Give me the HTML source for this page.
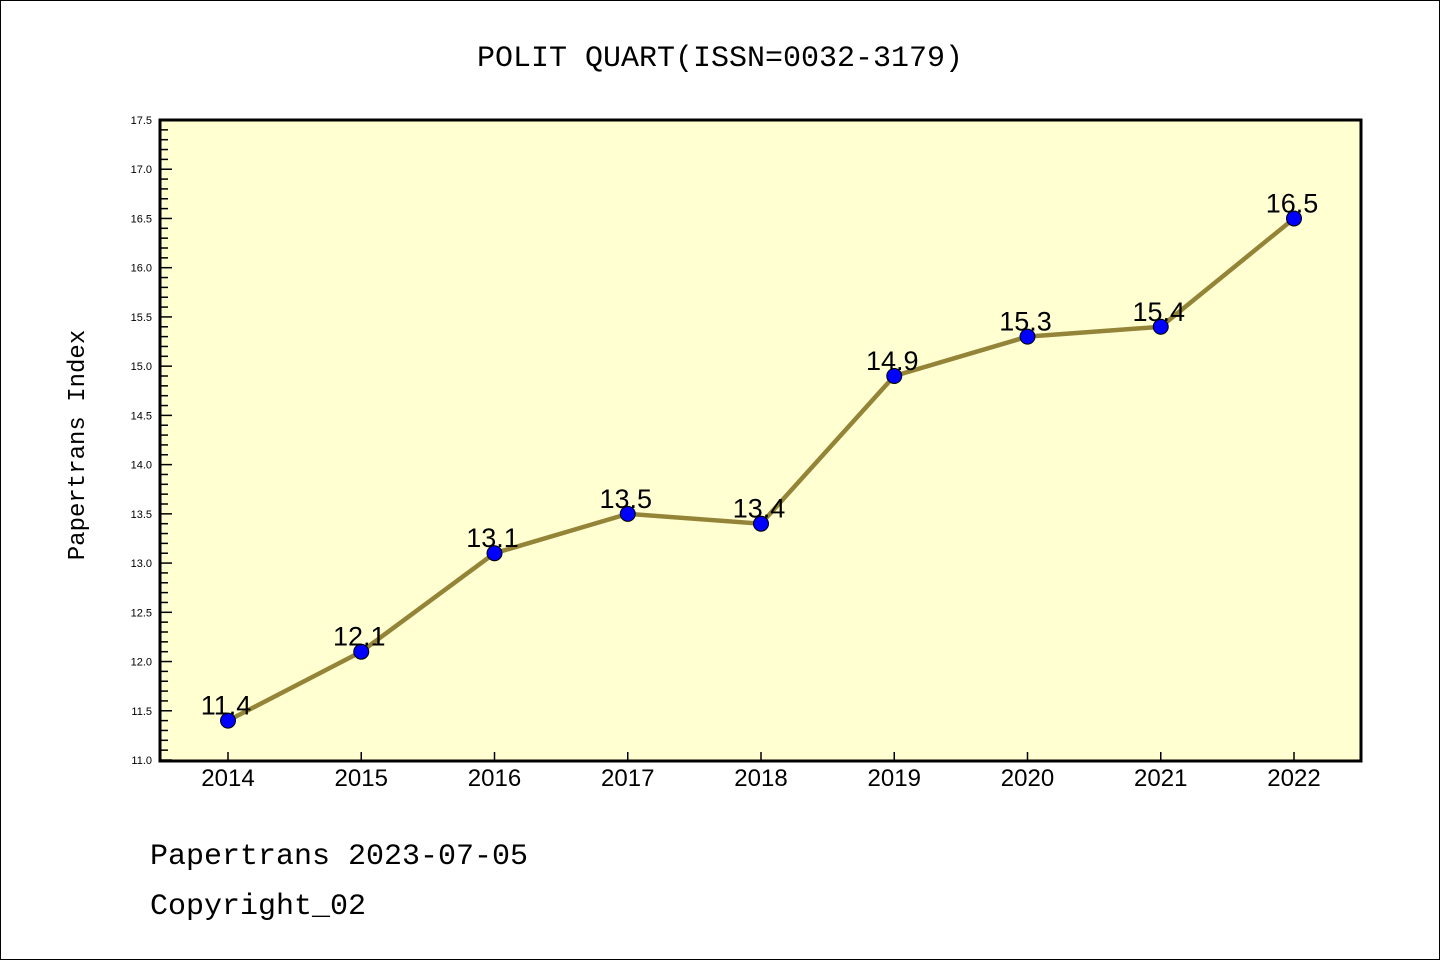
<!DOCTYPE html>
<html><head><meta charset="utf-8"><style>
html,body{margin:0;padding:0;background:#fff}
svg{display:block;font-family:"Liberation Sans","DejaVu Sans",sans-serif}
</style></head><body>
<svg width="1440" height="960">
<rect x="0.5" y="0.5" width="1439" height="959" fill="#fff" stroke="#000"/>
<text x="720" y="66" font-size="30" text-anchor="middle" font-family="Liberation Mono, monospace">POLIT QUART(ISSN=0032-3179)</text>
<rect x="160" y="120" width="1201" height="641" fill="#ffffd2"/>
<g id="yticks"></g><g id="xticks"></g>
<polyline id="line" fill="none" stroke="#948437" stroke-width="4.5"/>
<g id="pts"></g>
<rect x="160" y="120" width="1201" height="641" fill="none" stroke="#000" stroke-width="3"/>
<text transform="translate(84,445) rotate(-90)" font-size="24" text-anchor="middle" font-family="Liberation Mono, monospace">Papertrans Index</text>
<text x="150" y="864" font-size="30" font-family="Liberation Mono, monospace">Papertrans 2023-07-05</text>
<text x="150" y="914" font-size="30" font-family="Liberation Mono, monospace">Copyright_02</text>
</svg>
<script>
const years=["2014","2015","2016","2017","2018","2019","2020","2021","2022"];
const values=[11.4,12.1,13.1,13.5,13.4,14.9,15.3,15.4,16.5];
const yMin=11.0,yMax=17.5;
const NS="http://www.w3.org/2000/svg";
const X=i=>228+i*(1294-228)/(years.length-1);
const Y=v=>760-(v-yMin)/(yMax-yMin)*640;
function mk(t,a,p){const e=document.createElementNS(NS,t);for(const k in a)e.setAttribute(k,a[k]);p.appendChild(e);return e;}
const yt=document.getElementById('yticks');
for(let k=0;k<=65;k++){const v=yMin+k*0.1,y=Y(v),maj=k%5===0;
 const l=mk('line',{x1:160,x2:160+(maj?12:8),y1:y,y2:y,stroke:'#000','stroke-width':1.5},yt);
 
 
 if(maj){const t=mk('text',{x:152,y:y+4,'font-size':11,'text-anchor':'end'},yt);t.textContent=v.toFixed(1);
 
 }}
const xt=document.getElementById('xticks');
years.forEach((yr,i)=>{const x=X(i);
 const l=mk('line',{x1:x,x2:x,y1:760,y2:752,stroke:'#000','stroke-width':1.5},xt);
 
 
 const t=mk('text',{x:x,y:786,'font-size':24,'text-anchor':'middle'},xt);t.textContent=yr;
 
 });
document.getElementById('line').setAttribute('points',values.map((v,i)=>X(i)+','+Y(v)).join(' '));
const pts=document.getElementById('pts');
values.forEach((v,i)=>{
 const c=mk('circle',{cx:X(i),cy:Y(v),r:7.5,fill:'#0000ff',stroke:'#000','stroke-width':1},pts);
 
 
 const t=mk('text',{x:X(i)-2,y:Y(v)-6,'font-size':27,'text-anchor':'middle'},pts);t.textContent=v.toFixed(1);
 
 });
</script>
</body></html>
